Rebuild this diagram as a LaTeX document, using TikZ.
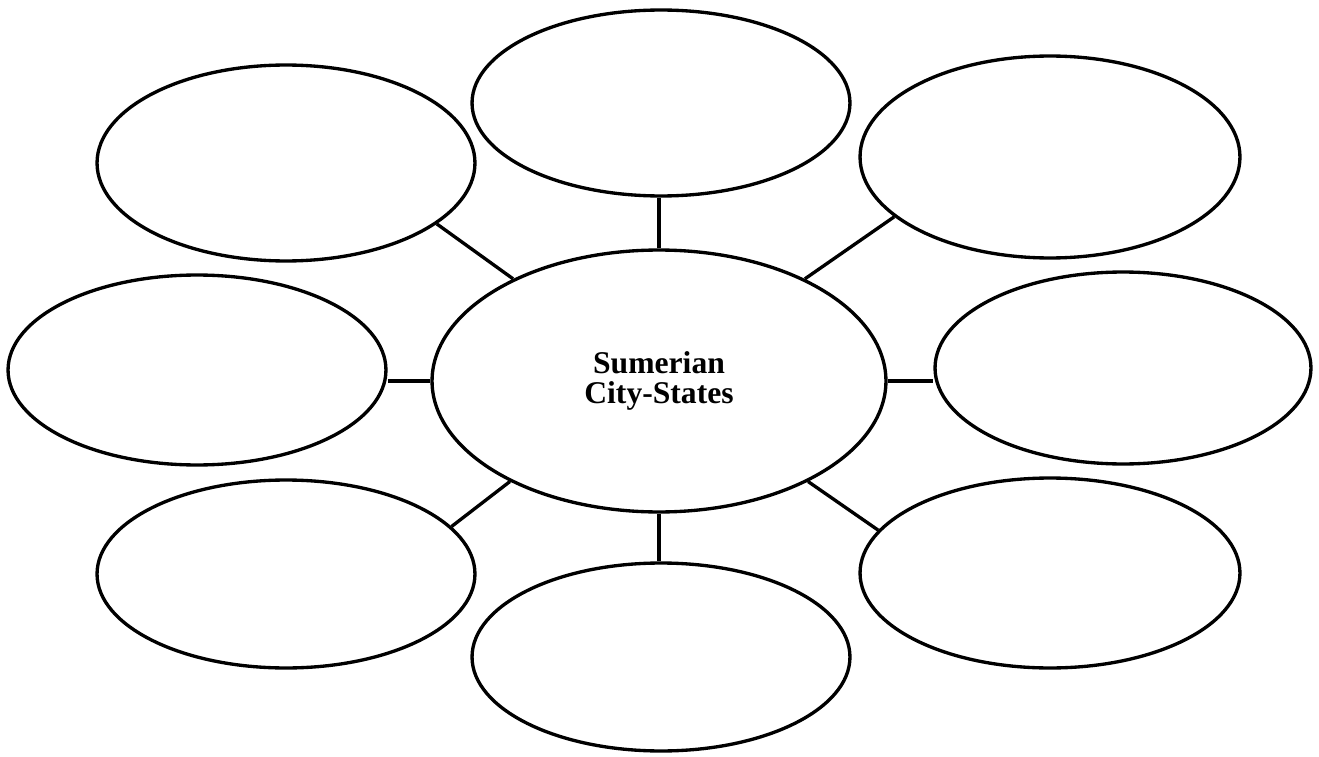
\documentclass[tikz,border=0pt]{standalone}
\usepackage{fontspec}
\setmainfont{Liberation Serif}
\usetikzlibrary{shapes.geometric}
\begin{document}
\begin{tikzpicture}[x=0.02cm,y=-0.02cm,
  bubble/.style={draw=black,line width=1.9pt,ellipse,inner sep=0pt},
  link/.style={draw=black,line width=1.9pt}]
\useasboundingbox (0,0) rectangle (1319,757);
\node[bubble,minimum width=9.08cm,minimum height=5.24cm,align=center,
  font=\bfseries\fontsize{18}{17}\selectfont] (c) at (659,381) {Sumerian\\City-States};
\node[bubble,minimum width=7.56cm,minimum height=3.72cm] (t) at (661,103) {};
\node[bubble,minimum width=7.56cm,minimum height=3.92cm] (tl) at (286,163) {};
\node[bubble,minimum width=7.60cm,minimum height=4.04cm] (tr) at (1050,157) {};
\node[bubble,minimum width=7.56cm,minimum height=3.80cm] (l) at (197,370) {};
\node[bubble,minimum width=7.52cm,minimum height=3.84cm] (r) at (1123,368) {};
\node[bubble,minimum width=7.56cm,minimum height=3.76cm] (bl) at (286,574) {};
\node[bubble,minimum width=7.60cm,minimum height=3.80cm] (br) at (1050,573) {};
\node[bubble,minimum width=7.56cm,minimum height=3.76cm] (b) at (661,657) {};
\draw[link] (c.north) -- (c.north |- t.south);
\draw[link] (c.south) -- (c.south |- b.north);
\draw[link] (c.145.6) -- (tl.-22.6);
\draw[link] (c.35.1) -- (tr.201.2);
\draw[link] (c.214.8) -- (bl.16.4);
\draw[link] (c.-34.9) -- (br.166.6);
\draw[link] (c.west) -- (c.west -| l.east);
\draw[link] (c.east) -- (c.east -| r.west);
\end{tikzpicture}
\end{document}
